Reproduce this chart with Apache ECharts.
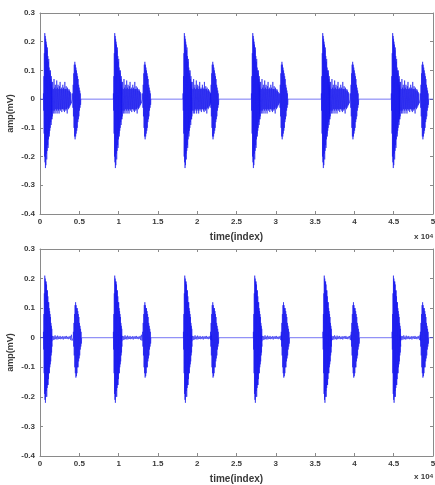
<!DOCTYPE html>
<html><head><meta charset="utf-8">
<script src="https://cdn.jsdelivr.net/npm/echarts@6/dist/echarts.min.js"></script>
<style>html,body{margin:0;padding:0;background:#fff}#c{width:435px;height:485px}</style>
</head><body><div id="c"></div>
<script>
// ---- data (x in units of 10^4 samples, amplitude in mV) ----
const xTicks = [0, 0.5, 1, 1.5, 2, 2.5, 3, 3.5, 4, 4.5, 5];
const yTicks = [-0.4, -0.3, -0.2, -0.1, 0, 0.1, 0.2, 0.3];
// peak times of S1 and S2 for each of the six beats
const topS1Times = [0.064, 0.954, 1.84, 2.71, 3.60, 4.49];
const topS2Times = [0.445, 1.336, 2.20, 3.08, 3.98, 4.87];
const botS1Times = [0.064, 0.954, 1.845, 2.735, 3.62, 4.50];
const botS2Times = [0.455, 1.336, 2.20, 3.10, 3.99, 4.87];
// successive oscillation extrema (upper plot)
const topS1Extrema = [0.02,-0.04,0.08,-0.12,0.16,-0.2,0.23,-0.22,0.22,-0.24,0.21,-0.23,0.2,-0.19,0.19,-0.21,0.17,-0.18,0.18,-0.16,0.15,-0.17,0.13,-0.14,0.14,-0.12,0.11,-0.13,0.1,-0.11,0.09,-0.1,0.1,-0.08,0.07,-0.09,0.08,-0.07,0.06,-0.07];
const topMurmurExtrema = [0.05,-0.05,0.04,-0.06,0.06,-0.04,0.035,-0.05,0.07,-0.04,0.04,-0.05,0.05,-0.035,0.035,-0.04,0.065,-0.05,0.04,-0.035,0.05,-0.04,0.035,-0.05,0.045,-0.035,0.06,-0.04,0.035,-0.035,0.04,-0.045,0.035,-0.035,0.05,-0.035,0.04,-0.04,0.035,-0.045,0.06,-0.035,0.035,-0.04,0.045,-0.035,0.035,-0.05,0.04,-0.03,0.03,-0.035,0.035,-0.03,0.03,-0.025,0.025,-0.02,0.02,-0.015];
const topS2Extrema = [0.02,-0.03,0.05,-0.06,0.09,-0.1,0.12,-0.13,0.13,-0.14,0.12,-0.13,0.11,-0.12,0.1,-0.11,0.09,-0.1,0.08,-0.08,0.07,-0.07,0.05,-0.06,0.04,-0.04,0.03,-0.03,0.02,-0.02];
// lower plot (filtered signal)
const botS1Extrema = [0.02,-0.04,0.08,-0.12,0.15,-0.19,0.21,-0.21,0.2,-0.22,0.19,-0.2,0.19,-0.18,0.18,-0.2,0.16,-0.17,0.16,-0.16,0.14,-0.16,0.12,-0.14,0.12,-0.12,0.1,-0.12,0.09,-0.1,0.08,-0.09,0.07,-0.08,0.05,-0.06,0.04,-0.05,0.03,-0.03];
const botMurmurExtrema = [0.01,-0.012,0.006,-0.008,0.005,-0.006,0.008,-0.005,0.004,-0.006,0.007,-0.005,0.004,-0.004,0.006,-0.005,0.003,-0.004,0.005,-0.006,0.004,-0.003,0.005,-0.004,0.006,-0.004,0.003,-0.005,0.004,-0.003,0.006,-0.008,0.01,-0.01];
const botS2Extrema = [0.02,-0.03,0.05,-0.06,0.08,-0.1,0.11,-0.12,0.12,-0.135,0.11,-0.13,0.1,-0.12,0.1,-0.1,0.09,-0.1,0.08,-0.08,0.07,-0.07,0.05,-0.06,0.04,-0.04,0.03,-0.03,0.02,-0.02];

// template placement (offsets from the peak time, in x units)
const S1_START = -0.02, S1_STEP = 0.0028;
const MUR_START = 0.08;
const S2_START = -0.03, S2_STEP = 0.0035;

function buildSignal(s1T, s2T, s1E, murE, s2E, murStep) {
  const pts = [[0, 0]];
  for (let b = 0; b < s1T.length; b++) {
    let x0 = s1T[b] + S1_START;
    pts.push([x0 - 0.001, 0]);
    s1E.forEach((v, j) => pts.push([x0 + j * S1_STEP, v]));
    let m0 = s1T[b] + MUR_START;
    murE.forEach((v, j) => pts.push([m0 + j * murStep, v]));
    let s0 = s2T[b] + S2_START;
    pts.push([s0 - 0.002, 0]);
    s2E.forEach((v, j) => pts.push([s0 + j * S2_STEP, v]));
    pts.push([s0 + s2E.length * S2_STEP, 0]);
  }
  pts.push([5, 0]);
  return pts;
}
const topData = buildSignal(topS1Times, topS2Times, topS1Extrema, topMurmurExtrema, topS2Extrema, 0.0043);
const botData = buildSignal(botS1Times, botS2Times, botS1Extrema, botMurmurExtrema, botS2Extrema, 0.008);

// ---- chart ----
const chart = echarts.init(document.getElementById('c'), null, {renderer: 'canvas'});
const axCol = '#8a8a8a';
const txtCol = '#3a3a3a';
const lblFont = {fontFamily: 'Liberation Sans', fontSize: 8, fontWeight: 'bold', color: txtCol};
function xAx(grid, pos, show) {
  return {
    type: 'value', gridIndex: grid, position: pos, min: xTicks[0], max: xTicks[xTicks.length-1], interval: 0.5,
    axisLine: {onZero: false, lineStyle: {color: axCol, width: 1}},
    axisTick: {inside: true, length: 3, lineStyle: {color: axCol}},
    axisLabel: Object.assign({show: show, margin: 4}, lblFont),
    splitLine: {show: false},
    name: show ? 'time(index)' : '', nameLocation: 'middle', nameGap: 18, nameMoveOverlap: false,
    nameTextStyle: {fontFamily: 'Liberation Sans', fontSize: 10, fontWeight: 'bold', color: txtCol}
  };
}
function yAx(grid, pos, show) {
  return {
    type: 'value', gridIndex: grid, position: pos, min: yTicks[0], max: yTicks[yTicks.length-1], interval: 0.1,
    axisLine: {onZero: false, lineStyle: {color: axCol, width: 1}},
    axisTick: {inside: true, length: 3, lineStyle: {color: axCol}},
    axisLabel: Object.assign({show: show, margin: 5, formatter: v => String(Math.round(v*10)/10)}, lblFont),
    splitLine: {show: false},
    name: show ? 'amp(mV)' : '', nameLocation: 'middle', nameGap: 25, nameRotate: 90, nameMoveOverlap: false,
    nameTextStyle: {fontFamily: 'Liberation Sans', fontSize: 9, fontWeight: 'bold', color: txtCol}
  };
}
const lineStyle = {color: '#1818ee', width: 0.7, opacity: 0.85};
const expText = {text: 'x 10{s|4}', rich: {s: {fontSize: 6, verticalAlign: 'top', fontWeight: 'bold', fill: txtCol}}, font: 'bold 8px "Liberation Sans"', fill: txtCol};
chart.setOption({
  animation: false,
  backgroundColor: '#fff',
  grid: [
    {left: 40, top: 13, width: 393, height: 201, show: false, containLabel: false, outerBoundsMode: 'none'},
    {left: 40, top: 249, width: 393, height: 207, show: false, containLabel: false, outerBoundsMode: 'none'}
  ],
  xAxis: [xAx(0, 'bottom', true), xAx(0, 'top', false), xAx(1, 'bottom', true), xAx(1, 'top', false)],
  yAxis: [yAx(0, 'left', true), yAx(0, 'right', false), yAx(1, 'left', true), yAx(1, 'right', false)],
  series: [
    {type: 'line', xAxisIndex: 0, yAxisIndex: 0, data: topData, showSymbol: false, symbol: 'none', lineStyle: lineStyle, silent: true},
    {type: 'line', xAxisIndex: 2, yAxisIndex: 2, data: botData, showSymbol: false, symbol: 'none', lineStyle: lineStyle, silent: true}
  ],
  graphic: [
    {type: 'text', right: 2, top: 233, style: expText},
    {type: 'text', right: 2, top: 473, style: expText}
  ]
});
</script></body></html>
